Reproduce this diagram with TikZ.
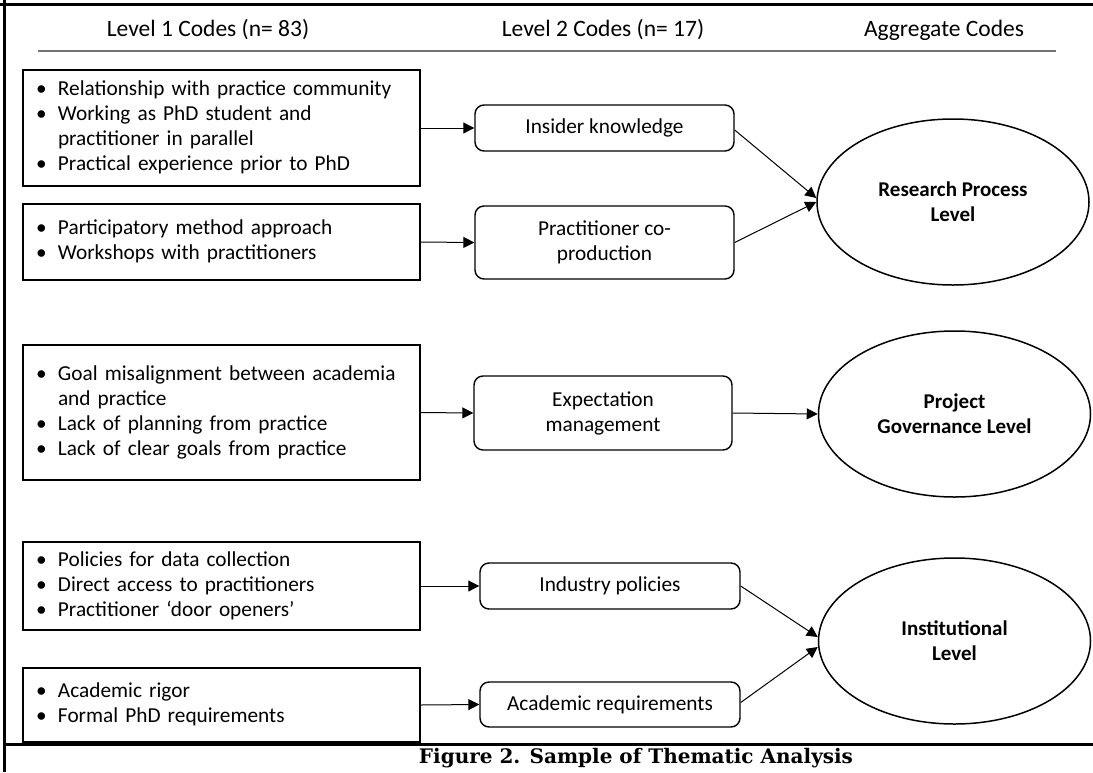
\documentclass[tikz,border=0pt]{standalone}
\usepackage{fontspec}
\setmainfont{Carlito}
\newfontfamily\capfont{DejaVu Serif}
\usetikzlibrary{arrows.meta,shapes.geometric}
\begin{document}
\begin{tikzpicture}[x=1pt,y=-1pt,
  lone/.style={draw, line width=1.6pt, inner xsep=13pt, inner ysep=0pt,
    text width=371pt, align=left, minimum height=#1,
    font=\fontsize{21.3}{25}\selectfont},
  ltwo/.style={draw, rounded corners=9pt, line width=1.4pt, align=center,
    inner sep=0pt, minimum width=259pt, font=\fontsize{21.3}{25}\selectfont},
  agg/.style={draw, ellipse, line width=1.5pt, minimum width=272pt,
    minimum height=166pt, inner sep=0pt, align=center,
    font=\bfseries\fontsize{21}{25}\selectfont},
  head/.style={font=\fontsize{23.5}{27}\selectfont, inner sep=0pt},
  arr/.style={-{Triangle[length=11pt,width=11pt]}, line width=1pt},
  frame/.style={line width=3pt}
]
\useasboundingbox (0,0) rectangle (1093,772);

% frame
\draw[frame] (4,0) -- (4,772);
\draw[frame] (0,4) -- (1093,4);
\draw[frame] (4,744) -- (1093,744);

% header
\node[head] (h1) at (208,30) {Level 1 Codes (n= 83)};
\node[head] (h2) at (603,30) {Level 2 Codes (n= 17)};
\node[head] (h3) at (944,30) {Aggregate Codes};
\draw[line width=2pt, black!55] (38,51) -- (1056,51);

% level 1 boxes
\node[lone=116pt] (a1) at (221.5,128) {\begin{tabular}{@{}p{22pt}@{}l@{}}
\textbullet & Relationship with practice community\\
\textbullet & Working as PhD student and\\
 & practitioner in parallel\\
\textbullet & Practical experience prior to PhD
\end{tabular}};
\node[lone=76pt] (a2) at (221.5,242) {\begin{tabular}{@{}p{22pt}@{}l@{}}
\textbullet & Participatory method approach\\
\textbullet & Workshops with practitioners
\end{tabular}};
\node[lone=135pt] (b1) at (221.5,412.5) {\begin{tabular}{@{}p{22pt}@{}l@{}}
\textbullet & Goal misalignment between academia\\
 & and practice\\
\textbullet & Lack of planning from practice\\
\textbullet & Lack of clear goals from practice
\end{tabular}};
\node[lone=88pt] (c1) at (221.5,586) {\begin{tabular}{@{}p{22pt}@{}l@{}}
\textbullet & Policies for data collection\\
\textbullet & Direct access to practitioners\\
\textbullet & Practitioner ‘door openers’
\end{tabular}};
\node[lone=74pt] (c2) at (221.5,705) {\begin{tabular}{@{}p{22pt}@{}l@{}}
\textbullet & Academic rigor\\
\textbullet & Formal PhD requirements
\end{tabular}};

% level 2 boxes
\node[ltwo, minimum height=46pt] (ins) at (604.5,128) {Insider knowledge};
\node[ltwo, minimum height=73pt] (prac) at (604.5,242.5) {Practitioner co-\\production};
\node[ltwo, minimum height=74pt, minimum width=258pt] (exp) at (603,413) {Expectation\\management};
\node[ltwo, minimum height=46pt, minimum width=260pt] (ind) at (610,586) {Industry policies};
\node[ltwo, minimum height=45pt, minimum width=260pt] (acad) at (610,704.5) {Academic requirements};

% aggregate
\node[agg] (res) at (953,202) {Research Process\\Level};
\node[agg] (proj) at (954.5,414) {Project\\Governance Level};
\node[agg] (inst) at (954.5,641) {Institutional\\Level};

% arrows
\draw[arr] (a1.east) -- (ins.west);
\draw[arr] (a2.east) -- (prac.west);
\draw[arr] (b1.east) -- (exp.west);
\draw[arr] (c1.east) -- (ind.west);
\draw[arr] (c2.east) -- (acad.west);
\draw[arr] ([yshift=-2pt]ins.east) -- ([yshift=4pt]res.west);
\draw[arr] (prac.east) -- (res.west);
\draw[arr] (exp.east) -- (proj.west);
\draw[arr] (ind.east) -- ([yshift=4pt]inst.west);
\draw[arr] ([yshift=2pt]acad.east) -- ([yshift=-6pt]inst.west);

% caption
\node[font=\capfont\bfseries\fontsize{20}{24}\selectfont, inner sep=0pt] (cap) at (636,758) {Figure 2. Sample of Thematic Analysis};
\end{tikzpicture}
\end{document}
